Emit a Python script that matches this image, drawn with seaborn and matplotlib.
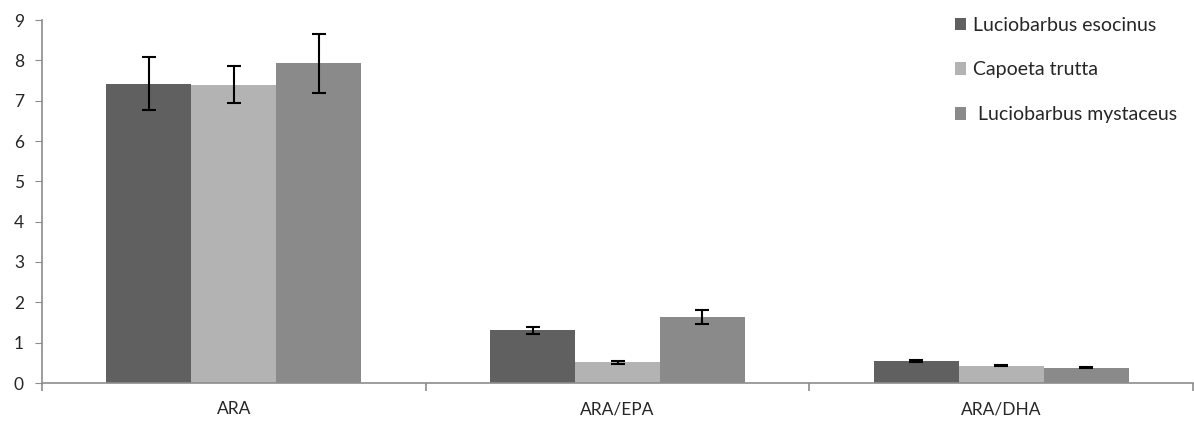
import numpy as np
import pandas as pd
import matplotlib
matplotlib.use('Agg')
import matplotlib.pyplot as plt
import seaborn as sns

# 데이터
categories = ['ARA', 'ARA/EPA', 'ARA/DHA']
species = ['Luciobarbus esocinus', 'Capoeta trutta', 'Luciobarbus mystaceus']
esocinus_vals = [7.42, 1.31, 0.54]
trutta_vals = [7.40, 0.51, 0.43]
mystaceus_vals = [7.93, 1.63, 0.38]
esocinus_err = [0.66, 0.09, 0.02]
trutta_err = [0.45, 0.04, 0.02]
mystaceus_err = [0.73, 0.17, 0.015]
colors = ['#606060', '#b3b3b3', '#8a8a8a']

vals = [esocinus_vals, trutta_vals, mystaceus_vals]
errs = [esocinus_err, trutta_err, mystaceus_err]

df = pd.DataFrame({
    'category': np.tile(categories, len(species)),
    'species': np.repeat(species, len(categories)),
    'value': np.concatenate(vals),
})

sns.set_style('white')
plt.rcParams['font.family'] = ['Lato', 'DejaVu Sans']

fig = plt.figure(figsize=(11.94, 4.21), dpi=100)
ax = fig.add_axes([42 / 1194, 38 / 421, 1 - 42 / 1194 - 0.0008, 363 / 421])

sns.barplot(data=df, x='category', y='value', hue='species', order=categories,
            hue_order=species, palette=colors, width=0.664, errorbar=None,
            saturation=1, linewidth=0, ax=ax, legend=True)

# 오차 막대
for container, err in zip(ax.containers, errs):
    xs = [p.get_x() + p.get_width() / 2 for p in container.patches]
    ys = [p.get_height() for p in container.patches]
    ax.errorbar(xs, ys, yerr=err, fmt='none', ecolor='black', elinewidth=1.5,
                capsize=5, capthick=1.5)

ax.set_xlim(-0.5, 2.5)
ax.set_ylim(0, 9)
ax.set_yticks(range(10))
ax.set_xlabel('')
ax.set_ylabel('')

for side in ['top', 'right']:
    ax.spines[side].set_visible(False)
for side in ['left', 'bottom']:
    ax.spines[side].set_color('#8c8c8c')
    ax.spines[side].set_linewidth(1.2)

ax.tick_params(axis='y', which='major', left=True, length=5, color='#8c8c8c',
               labelsize=12.5, pad=8)
ax.tick_params(axis='x', which='major', length=0, labelsize=12.5, pad=13)
ax.set_xticks([-0.5, 0.5, 1.5, 2.5], minor=True)
ax.tick_params(axis='x', which='minor', bottom=True, length=6, color='#8c8c8c', width=1.2)

handles, labels = ax.get_legend_handles_labels()
labels = ['Luciobarbus esocinus', 'Capoeta trutta', ' Luciobarbus mystaceus']
ax.legend(handles, labels, loc='upper left', bbox_to_anchor=(941 / 1194, 1 - 3 / 421),
          bbox_transform=fig.transFigure, frameon=False, fontsize=14,
          handlelength=0.6, handleheight=0.6, handletextpad=0.35,
          labelspacing=1.43, borderaxespad=0.3)

plt.savefig('out.png', dpi=100)
